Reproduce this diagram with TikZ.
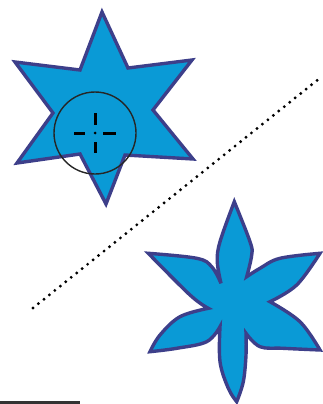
\documentclass[tikz,border=0pt]{standalone}
\usepackage{tikz}
\definecolor{starblue}{HTML}{0A9AD6}
\definecolor{starline}{HTML}{3D3F8A}
\tikzset{shapefill/.style={fill=starblue,draw=starline,line width=3.4pt},
  ring/.style={draw=black!85,line width=1.4pt},
  crosshair/.style={draw=black,line width=3pt},
  dotline/.style={draw=black,line width=3.2pt,line cap=round,dash pattern=on 0pt off 7pt},
  baseline/.style={draw=black!80,line width=3pt},
  side/.style={smooth,tension=0.6}}

\begin{document}
\begin{tikzpicture}[x=1pt,y=-1pt]
\useasboundingbox (0,0) rectangle (322,404);
% six pointed star
\draw[shapefill] (102,12) -- (128,68) -- (192,60) -- (153,110) -- (193,159) -- (125,155)
  -- (106,204) -- (80,154) -- (17,163) -- (53,113) -- (15,62) -- (80,70) -- cycle;
% selection ring and crosshair
\coordinate (c) at (95,133);
\draw[ring] (c) circle (41);
\draw[crosshair] (74,133) -- (85,133);
\draw[crosshair] (103,133) -- (116,133);
\draw[crosshair] (95,113) -- (95,125);
\draw[crosshair] (95,142) -- (95,153);
\fill (c) circle (1.5);
% dotted diagonal
\coordinate (d1) at (33,308);
\coordinate (d2) at (320,78);
\draw[dotline] (d1) -- (d2);
% flower, one petal side at a time
\draw[shapefill] (221,283.3)
  -- plot[side] coordinates {(221,283.3) (217.3,261.7) (220,241.7) (234.3,201.7)}
  -- plot[side] coordinates {(234.3,201.7) (250,241.7) (251.7,255) (246.7,276.7)}
  -- plot[side] coordinates {(246.7,276.7) (260,268.3) (280,258.3) (320,253.3)}
  -- plot[side] coordinates {(320,253.3) (296.7,285) (270,301.7)}
  -- plot[side] coordinates {(270,301.7) (300,321.7) (320,350)}
  -- plot[side] coordinates {(320,350) (283.3,348.3) (260,346.7) (246,333.3)}
  -- plot[side] coordinates {(246,333.3) (246,355) (243.3,381.7) (236.7,401.7)}
  -- plot[side] coordinates {(236.7,401.7) (228.3,388.3) (220,361.7) (220,326.7)}
  -- plot[side] coordinates {(220,326.7) (206.7,341.7) (176.7,348.3) (150,351.7)}
  -- plot[side] coordinates {(150,351.7) (160,335) (180,316.7) (208.3,308.3)}
  -- plot[side] coordinates {(208.3,308.3) (190,295) (148.3,253.3)}
  -- plot[side] coordinates {(148.3,253.3) (196.7,258.3) (211.7,266.7) (221,283.3)}
  -- cycle;
% bottom rule
\coordinate (r1) at (0,402.5);
\coordinate (r2) at (80,402.5);
\draw[baseline] (r1) -- (r2);
\end{tikzpicture}
\end{document}
